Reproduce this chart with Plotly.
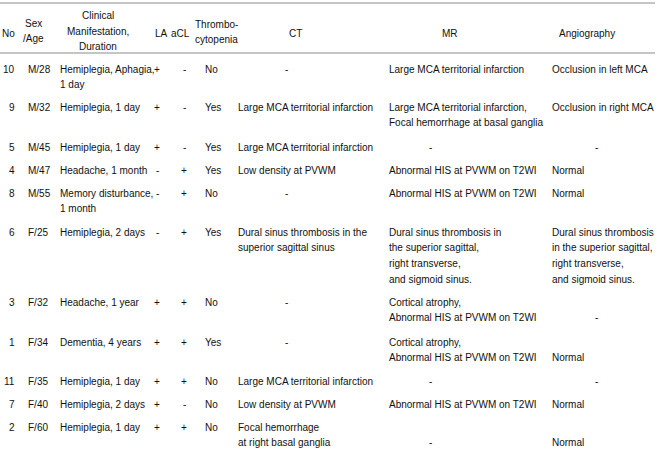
import plotly.graph_objects as go

# ---------------- data ----------------
header_no = ["No"]
header_sex = ["Sex", "/Age"]
header_clin = ["Clinical", "Manifestation,", "Duration"]
header_la = ["LA"]
header_acl = ["aCL"]
header_thr = ["Thrombo-", "cytopenia"]
header_ct = ["CT"]
header_mr = ["MR"]
header_angio = ["Angiography"]

no = ["10", "9", "5", "4", "8", "6", "3", "1", "11", "7", "2"]
sex_age = ["M/28", "M/32", "M/45", "M/47", "M/55", "F/25", "F/32", "F/34", "F/35", "F/40", "F/60"]
clinical = ["Hemiplegia, Aphagia,\n1 day", "Hemiplegia, 1 day", "Hemiplegia, 1 day",
            "Headache, 1 month", "Memory disturbance,\n1 month", "Hemiplegia, 2 days",
            "Headache, 1 year", "Dementia, 4 years", "Hemiplegia, 1 day",
            "Hemiplegia, 2 days", "Hemiplegia, 1 day"]
la = ["+", "+", "+", "-", "-", "-", "+", "+", "+", "+", "+"]
acl = ["-", "-", "-", "+", "+", "+", "+", "+", "+", "-", "+"]
thrombo = ["No", "Yes", "Yes", "Yes", "No", "Yes", "No", "Yes", "No", "No", "No"]
ct = ["-", "Large MCA territorial infarction", "Large MCA territorial infarction",
      "Low density at PVWM", "-",
      "Dural sinus thrombosis in the\nsuperior sagittal sinus", "-", "-",
      "Large MCA territorial infarction", "Low density at PVWM",
      "Focal hemorrhage\nat right basal ganglia"]
mr = ["Large MCA territorial infarction",
      "Large MCA territorial infarction,\nFocal hemorrhage at basal ganglia",
      "-", "Abnormal HIS at PVWM on T2WI", "Abnormal HIS at PVWM on T2WI",
      "Dural sinus thrombosis in\nthe superior sagittal,\nright transverse,\nand sigmoid sinus.",
      "Cortical atrophy,\nAbnormal HIS at PVWM on T2WI",
      "Cortical atrophy,\nAbnormal HIS at PVWM on T2WI",
      "-", "Abnormal HIS at PVWM on T2WI", "\n-"]
angio = ["Occlusion in left MCA", "Occlusion in right MCA", "-", "Normal", "Normal",
         "Dural sinus thrombosis\nin the superior sagittal,\nright transverse,\nand sigmoid sinus.",
         "\n-", "\nNormal", "-", "Normal", "\nNormal"]

# ---------------- layout ----------------
W, H = 657, 449
FONT = dict(family="Liberation Sans, Arial, sans-serif", size=10, color="#111111")
LINE_GAP = 15.8
row_y = [69, 107, 147, 170, 193, 232, 302, 342, 381, 404, 427]

# (values, x, anchor, dash_x)
columns = [
    (no, 17, "right", None),
    (sex_age, 26, "left", None),
    (clinical, 58, "left", None),
    (la, 157, "center", None),
    (acl, 184, "center", None),
    (thrombo, 203, "left", None),
    (ct, 236, "left", 286),
    (mr, 387, "left", 430),
    (angio, 550, "left", 596),
]

headers = [
    (header_no, 17, "right", 33),
    (header_sex, 33, "center", 23),
    (header_clin, 98, "center", 15.5),
    (header_la, 161.5, "center", 33),
    (header_acl, 180.5, "center", 33),
    (header_thr, 216, "center", 24),
    (header_ct, 295, "center", 33),
    (header_mr, 450, "center", 33),
    (header_angio, 587, "center", 33),
]

annotations = []

def add(text, x, y, anchor):
    annotations.append(dict(text=text, x=x, y=y, xref="x", yref="y",
                            xanchor=anchor, yanchor="middle", showarrow=False,
                            font=FONT))

for lines, x, anchor, y0 in headers:
    gap = 15.7 if len(lines) == 3 else 15
    for k, line in enumerate(lines):
        add(line, x, y0 + k * gap, anchor)

for values, x, anchor, dash_x in columns:
    for i, cell in enumerate(values):
        for k, line in enumerate(cell.split("\n")):
            if not line:
                continue
            if line == "-" and dash_x is not None:
                add(line, dash_x, row_y[i] + k * LINE_GAP, "center")
            else:
                add(line, x, row_y[i] + k * LINE_GAP, anchor)

shapes = [
    dict(type="line", xref="x", yref="y", x0=0, x1=655, y0=3, y1=3,
         line=dict(color="#8c8c8c", width=1.2)),
    dict(type="line", xref="x", yref="y", x0=0, x1=655, y0=53, y1=53,
         line=dict(color="#8c8c8c", width=1.2)),
]

fig = go.Figure()
fig.update_layout(
    width=W, height=H,
    margin=dict(l=0, r=0, t=0, b=0),
    paper_bgcolor="white", plot_bgcolor="white",
    xaxis=dict(range=[0, W], visible=False, fixedrange=True),
    yaxis=dict(range=[H, 0], visible=False, fixedrange=True),
    annotations=annotations,
    shapes=shapes,
    showlegend=False,
)
fig.write_html("out.html", config={"displayModeBar": False},
               post_script="document.body.style.margin='0';document.body.style.overflow='hidden';")
